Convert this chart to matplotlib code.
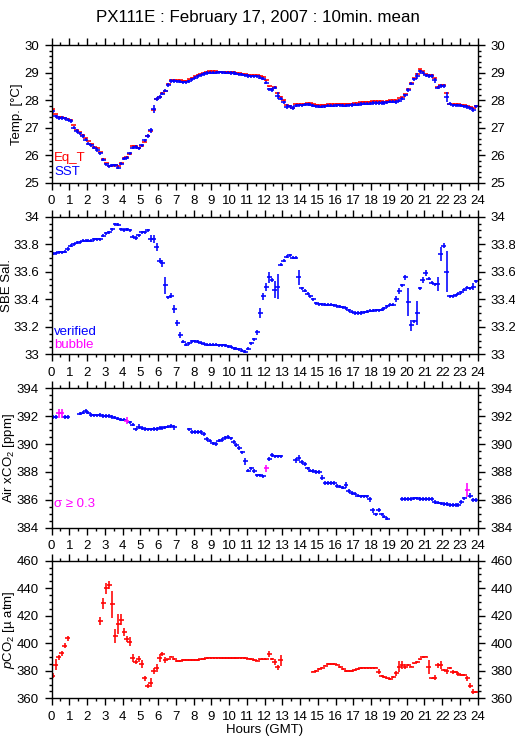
import matplotlib
matplotlib.use('Agg')
import matplotlib.pyplot as plt
from matplotlib.ticker import MultipleLocator
import numpy as np

plt.rcParams['font.family'] = ['Liberation Sans', 'DejaVu Sans']
plt.rcParams['mathtext.fontset'] = 'custom'
plt.rcParams['mathtext.rm'] = 'Liberation Sans'
plt.rcParams['mathtext.it'] = 'Liberation Sans:italic'

nan = np.nan

# 10 minute bins, 144 per day
hours = (np.arange(144) + 0.5) / 6.0

eq_t = [27.67, 27.50, 27.40, 27.38, 27.36, 27.32,
        27.28, 27.10, 26.92, 26.85, 26.75, 26.62,
        26.52, 26.42, 26.32, 26.28, 26.12, 25.88,
        25.72, 25.62, 25.62, 25.66, 25.62, 25.72,
        25.90, 25.95, 26.05, 26.35, 26.35, 26.28,
        26.35, 26.50, 26.72, 26.87, 27.65, 28.04,
        28.12, 28.25, 28.35, 28.58, 28.73, 28.73,
        28.72, 28.72, 28.70, 28.70, 28.75, 28.82,
        28.87, 28.92, 28.96, 29.00, 29.02, 29.05,
        29.06, 29.06, 29.03, 29.03, 29.03, 29.03,
        29.02, 29.01, 29.00, 28.98, 28.96, 28.95,
        28.92, 28.90, 28.90, 28.90, 28.88, 28.85,
        28.72, 28.50, 28.42, 28.48, 28.25, 28.12,
        28.00, 27.82, 27.80, 27.73, 27.85, 27.85,
        27.86, 27.88, 27.90, 27.90, 27.86, 27.84,
        27.82, 27.84, 27.84, 27.86, 27.86, 27.86,
        27.88, 27.88, 27.88, 27.86, 27.87, 27.88,
        27.90, 27.90, 27.92, 27.94, 27.94, 27.94,
        27.96, 27.96, 27.96, 27.96, 27.95, 27.98,
        28.01, 28.01, 28.00, 28.08, 28.10, 28.22,
        28.40, 28.62, 28.80, 28.95, 29.12, 29.05,
        28.95, 28.92, 28.92, 28.80, 28.48, 28.55,
        28.55, 28.25, 27.88, 27.86, 27.86, 27.86,
        27.84, 27.82, 27.80, 27.76, 27.70, 27.80]

sst = [27.60, 27.42, 27.36, 27.36, 27.34, 27.30,
       27.25, 27.00, 26.88, 26.80, 26.70, 26.57,
       26.43, 26.36, 26.28, 26.20, 26.07, 25.85,
       25.68, 25.60, 25.64, 25.64, 25.56, 25.70,
       25.88, 25.92, 26.07, 26.28, 26.30, 26.25,
       26.37, 26.55, 26.70, 26.91, 27.68, 28.04,
       28.12, 28.24, 28.34, 28.55, 28.70, 28.70,
       28.68, 28.67, 28.65, 28.65, 28.68, 28.75,
       28.82, 28.87, 28.90, 28.95, 28.98, 29.00,
       29.00, 29.00, 29.01, 29.01, 29.00, 29.00,
       28.99, 28.98, 28.96, 28.94, 28.92, 28.90,
       28.88, 28.87, 28.87, 28.86, 28.82, 28.78,
       28.64, 28.39, 28.37, 28.45, 28.17, 28.05,
       27.92, 27.76, 27.78, 27.72, 27.80, 27.82,
       27.82, 27.84, 27.85, 27.84, 27.80, 27.78,
       27.76, 27.77, 27.78, 27.80, 27.80, 27.80,
       27.82, 27.82, 27.80, 27.80, 27.82, 27.83,
       27.84, 27.84, 27.86, 27.88, 27.88, 27.88,
       27.90, 27.90, 27.90, 27.90, 27.90, 27.92,
       27.95, 27.95, 27.93, 27.98, 28.06, 28.18,
       28.37, 28.60, 28.75, 28.89, 29.05, 29.00,
       28.90, 28.88, 28.88, 28.72, 28.45, 28.52,
       28.52, 28.12, 27.88, 27.82, 27.82, 27.82,
       27.80, 27.78, 27.75, 27.70, 27.64, 27.78]
eqt_err = 0.015
sst_err = 0.06
sst_err_big = {33: 0.1, 34: 0.15, 36: 0.08, 76: 0.11, 79: 0.09,
               123: 0.11, 129: 0.08, 133: 0.18, 142: 0.08}

sal = [33.73, 33.735, 33.74, 33.74, 33.745, 33.765,
       33.79, 33.80, 33.81, 33.815, 33.825, 33.825,
       33.825, 33.825, 33.835, 33.835, 33.835, 33.86,
       33.88, 33.885, 33.91, 33.945, 33.94, 33.91,
       33.90, 33.91, 33.90, 33.855, 33.845, 33.865,
       33.885, 33.885, 33.90, 33.84, 33.84, 33.78,
       33.68, 33.66, 33.50, 33.415, 33.425, 33.33,
       33.23, 33.14, 33.09, 33.07, 33.08, 33.095,
       33.095, 33.09, 33.085, 33.075, 33.07, 33.07,
       33.07, 33.07, 33.065, 33.065, 33.065, 33.06,
       33.055, 33.045, 33.04, 33.035, 33.025, 33.02,
       33.04, 33.08, 33.11, 33.16, 33.30, 33.42,
       33.49, 33.56, 33.54, 33.47, 33.49, 33.65,
       33.68, 33.71, 33.72, 33.70, 33.70, 33.56,
       33.48, 33.46, 33.44, 33.42, 33.40, 33.37,
       33.365, 33.365, 33.36, 33.36, 33.36, 33.355,
       33.35, 33.345, 33.34, 33.335, 33.32, 33.31,
       33.30, 33.30, 33.30, 33.305, 33.31, 33.315,
       33.315, 33.32, 33.32, 33.325, 33.335, 33.35,
       33.36, 33.36, 33.40, 33.46, 33.50, 33.56,
       33.38, 33.21, 33.24, 33.30, 33.48, 33.54,
       33.59, 33.55, 33.52, 33.51, 33.51, 33.73,
       33.79, 33.60, 33.42, 33.42, 33.43, 33.44,
       33.45, 33.47, 33.485, 33.48, 33.49, 33.53]
sal_err = 0.011
sal_err_big = {33: 0.025, 34: 0.03, 35: 0.03, 36: 0.017, 37: 0.025, 38: 0.065,
               40: 0.017, 41: 0.03, 42: 0.022, 43: 0.022, 69: 0.02, 70: 0.035,
               71: 0.025, 72: 0.03, 73: 0.04, 74: 0.017, 75: 0.06, 76: 0.09,
               83: 0.055, 116: 0.02, 117: 0.02, 119: 0.017, 120: 0.1, 121: 0.04,
               123: 0.09, 125: 0.025, 126: 0.02, 130: 0.05, 131: 0.05,
               132: 0.017, 133: 0.15, 142: 0.025}

air = [391.92, 391.92, 392.20, 392.20, 391.92, 391.92,
       nan, nan, nan, 392.18, 392.25, 392.35,
       392.25, 392.08, 392.05, 392.05, 392.10, 392.00,
       392.00, 392.00, 391.95, 391.90, 391.82, 391.75,
       391.75, 391.68, 391.55, 391.40, 391.05, 391.25,
       391.15, 391.10, 391.05, 391.05, 391.10, 391.10,
       391.15, 391.15, 391.20, 391.25, 391.30, 391.20,
       nan, nan, nan, nan, 391.05, 390.88,
       390.88, 390.88, 390.88, 390.70, 390.35, 390.25,
       390.05, 390.00, 390.25, 390.30, 390.45, 390.50,
       390.40, 390.15, 389.95, 389.70, 389.40, 388.75,
       388.10, 388.25, 388.05, 387.75, 387.75, 387.68,
       388.25, 388.95, 389.20, 389.12, 389.12, 389.12,
       nan, nan, nan, nan, 388.85, 389.00,
       388.70, 388.55, 388.25, 388.10, 388.05, 388.00,
       388.00, 387.60, 387.22, 387.20, 387.20, 387.20,
       387.00, 386.95, 386.88, 387.05, 386.65, 386.50,
       386.45, 386.30, 386.25, 386.25, 386.25, 386.05,
       385.25, 384.95, 385.25, 384.95, 384.80, 384.65,
       nan, nan, nan, nan, 386.05, 386.05,
       386.08, 386.08, 386.10, 386.10, 386.08, 386.08,
       386.05, 386.05, 386.05, 385.85, 385.80, 385.75,
       385.72, 385.70, 385.62, 385.62, 385.62, 385.62,
       385.85, 386.10, 386.70, 386.30, 386.00, 386.00]
air_err = 0.13
air_err_big = {2: 0.3, 3: 0.3, 11: 0.15, 25: 0.25, 29: 0.18, 41: 0.18, 65: 0.22,
               72: 0.22, 82: 0.18, 83: 0.22, 91: 0.18, 99: 0.2, 107: 0.18,
               108: 0.17, 138: 0.17, 140: 0.5, 141: 0.17}
air_sigma = [2, 3, 25, 72, 140]   # bins with sigma >= 0.3 (magenta)

pco2 = [376.5, 384.2, 389.8, 392.7, 398.3, 403.6,
        nan, nan, nan, nan, nan, nan,
        nan, nan, nan, nan, 416.2, 429.0,
        439.9, 442.3, 428.3, 405.3, 414.0, 416.9,
        408.0, 403.1, 401.2, 389.5, 386.2, 388.6,
        385.0, 374.5, 369.0, 371.4, 379.9, 381.8,
        389.5, 392.2, 387.8, 388.3, 390.3, 388.6,
        387.1, 387.1, 387.9, 387.9, 387.9, 387.9,
        387.9, 387.9, 388.3, 388.7, 389.3, 389.6,
        389.6, 389.6, 389.6, 389.3, 389.3, 389.3,
        389.3, 389.3, 389.3, 389.6, 389.6, 389.1,
        388.8, 388.5, 387.8, 387.4, 388.3, 388.3,
        388.3, 392.0, 388.6, 386.2, 382.5, 387.8,
        nan, nan, nan, nan, nan, nan,
        nan, nan, nan, nan, 379.4, 379.9,
        381.1, 382.3, 383.7, 384.7, 384.7, 384.7,
        384.5, 382.8, 381.3, 379.9, 379.9, 379.9,
        380.5, 381.3, 381.8, 382.3, 382.3, 382.3,
        382.3, 382.3, 379.4, 376.2, 375.3, 374.5,
        374.0, 375.3, 378.2, 383.0, 384.2, 382.8,
        384.2, 383.0, 385.4, 386.2, 388.3, 389.8,
        390.3, 382.5, 374.5, 375.0, 384.0, 384.2,
        380.6, 379.6, 381.8, 379.4, 379.1, 377.4,
        377.0, 376.7, 374.5, 369.2, 364.8, 364.8]
pco2_err = 0.6
pco2_err_big = {0: 2, 1: 4, 2: 1.8, 3: 1.8, 4: 2, 5: 2, 16: 3, 17: 4, 18: 4,
                19: 3, 20: 10, 21: 5, 22: 7, 23: 4, 24: 3, 25: 2, 26: 3,
                27: 3, 28: 1.5, 29: 2, 30: 3, 31: 2, 32: 1.5, 33: 3, 34: 2, 35: 3,
                36: 3, 37: 1.5, 38: 2, 73: 2, 75: 2, 76: 2, 77: 4, 110: 2,
                116: 1.8, 117: 4, 118: 3, 119: 1.8, 127: 5, 129: 2, 130: 2,
                131: 3, 133: 2, 135: 1.5, 137: 1.5, 140: 2, 141: 2, 142: 2}


def err_array(default, big):
    e = np.full(144, default)
    for k, v in big.items():
        e[k] = v
    return e


def bars(ax, x, y, err, color):
    ax.errorbar(x, y, xerr=0.14, yerr=err, fmt='none', ecolor=color,
                elinewidth=1.15, capsize=0)


fig = plt.figure(figsize=(5.15, 7.39), dpi=100)
left = 0.100
width = 0.8276
panels = [(0.7524, 0.1867), (0.5206, 0.1862), (0.2859, 0.1887), (0.0551, 0.1862)]
axes = [fig.add_axes((left, b, width, h)) for b, h in panels]

fs = 9.5
for ax in axes:
    ax.set_xlim(0, 24)
    ax.set_xticks(range(0, 25))
    ax.xaxis.set_minor_locator(MultipleLocator(0.5))
    ax.tick_params(which='both', direction='out', top=True, right=True,
                   labelright=True, labelsize=fs, width=1.0)
    ax.tick_params(which='major', length=5, pad=4)
    ax.tick_params(which='minor', length=2.5)
    for s in ax.spines.values():
        s.set_linewidth(1.0)

fs_lab = 9.5

# temperature
ax = axes[0]
bars(ax, hours, eq_t, eqt_err, 'red')
bars(ax, hours, sst, err_array(sst_err, sst_err_big), 'blue')
ax.set_ylim(25, 30)
ax.yaxis.set_major_locator(MultipleLocator(1))
ax.yaxis.set_minor_locator(MultipleLocator(0.2))
ax.set_ylabel('Temp. [°C]', fontsize=fs_lab)
ax.yaxis.set_label_coords(-0.067, 0.5)
ax.text(0.006, 0.18, 'Eq_T', color='red', fontsize=fs, transform=ax.transAxes, va='center')
ax.text(0.006, 0.08, 'SST', color='blue', fontsize=fs, transform=ax.transAxes, va='center')

# salinity
ax = axes[1]
bars(ax, hours, sal, err_array(sal_err, sal_err_big), 'blue')
ax.set_ylim(33, 34)
ax.yaxis.set_minor_locator(MultipleLocator(0.05))
ax.set_yticks([33, 33.2, 33.4, 33.6, 33.8, 34])
ax.set_yticklabels(['33', '33.2', '33.4', '33.6', '33.8', '34'])
ax.set_ylabel('SBE Sal.', fontsize=fs_lab)
ax.yaxis.set_label_coords(-0.091, 0.5)
ax.text(0.006, 0.162, 'verified', color='blue', fontsize=fs, transform=ax.transAxes, va='center')
ax.text(0.006, 0.064, 'bubble', color='magenta', fontsize=fs, transform=ax.transAxes, va='center')

# air xCO2
ax = axes[2]
air_e = err_array(air_err, air_err_big)
air_a = np.array(air)
normal = np.ones(144, bool)
normal[air_sigma] = False
bars(ax, hours[normal], air_a[normal], air_e[normal], 'blue')
bars(ax, hours[~normal], air_a[~normal], air_e[~normal], 'magenta')
ax.set_ylim(384, 394)
ax.yaxis.set_major_locator(MultipleLocator(2))
ax.yaxis.set_minor_locator(MultipleLocator(0.5))
ax.set_ylabel('Air xCO$_2$ [ppm]', fontsize=fs_lab)
ax.yaxis.set_label_coords(-0.081, 0.5)
ax.text(0.006, 0.17, 'σ ≥ 0.3', color='magenta', fontsize=fs, transform=ax.transAxes, va='center')

# pCO2
ax = axes[3]
bars(ax, hours, pco2, err_array(pco2_err, pco2_err_big), 'red')
ax.set_ylim(360, 460)
ax.yaxis.set_major_locator(MultipleLocator(20))
ax.yaxis.set_minor_locator(MultipleLocator(5))
ax.set_ylabel('$\\it{p}$CO$_2$ [µ atm]', fontsize=fs_lab)
ax.yaxis.set_label_coords(-0.081, 0.5)
ax.set_xlabel('Hours (GMT)', fontsize=fs_lab, labelpad=1)

fig.suptitle('PX111E : February 17, 2007 : 10min. mean', fontsize=12.2, y=0.987)

fig.savefig('out.png', dpi=100)
